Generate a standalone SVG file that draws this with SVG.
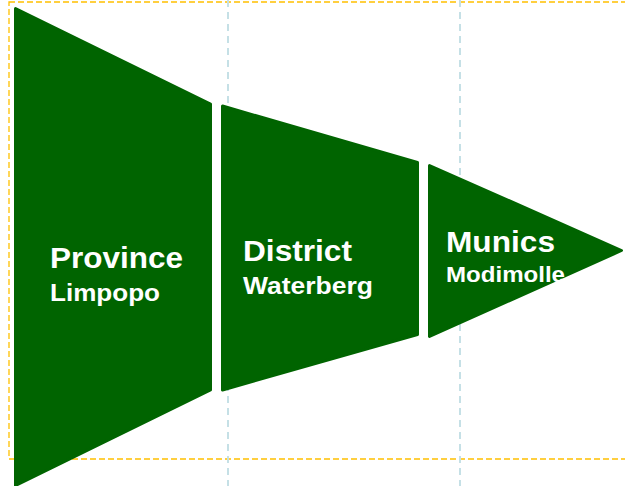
<svg xmlns="http://www.w3.org/2000/svg" width="625" height="486" viewBox="0 0 625 486">
  <style>
    .guide-o { fill: none; stroke: #FFC000; stroke-width: 1.3; stroke-dasharray: 6 3; }
    .guide-b { fill: none; stroke: #C5E0E6; stroke-width: 2; stroke-dasharray: 7 5; }
    .seg { fill: #006400; stroke: #006400; stroke-width: 3; stroke-linejoin: round; }
    .t1 { font-family: "Liberation Sans", Arial, sans-serif; font-weight: bold; fill: #FFFFFF; }
    .t2 { font-family: "Liberation Sans", Arial, sans-serif; font-weight: bold; fill: #FFFFFF; }
  </style>
  <rect width="625" height="486" fill="#FFFFFF"/>
  <g id="guides">
    <rect class="guide-o" x="9" y="2" width="625" height="457"/>
    <line class="guide-b" x1="228" y1="0" x2="228" y2="486"/>
    <line class="guide-b" x1="460" y1="0" x2="460" y2="486"/>
  </g>
  <g id="connectors"></g>
  <g id="province">
    <polygon class="seg" points="15.5,8.5 210.5,104 210.5,390 15.5,485.5"/>
    <text class="t1" x="50" y="268" font-size="30" textLength="133" lengthAdjust="spacingAndGlyphs">Province</text>
    <text class="t2" x="50" y="301" font-size="23" textLength="110" lengthAdjust="spacingAndGlyphs">Limpopo</text>
  </g>
  <g id="district">
    <polygon class="seg" points="222.5,106 417.5,162.5 417.5,334.5 222.5,390"/>
    <text class="t1" x="243" y="261" font-size="29.5" textLength="109" lengthAdjust="spacingAndGlyphs">District</text>
    <text class="t2" x="243" y="294" font-size="23" textLength="130" lengthAdjust="spacingAndGlyphs">Waterberg</text>
  </g>
  <g id="munics">
    <polygon class="seg" points="429.5,165.5 621.5,250.5 429.5,336.5"/>
    <text class="t1" x="446" y="252" font-size="29" textLength="109" lengthAdjust="spacingAndGlyphs">Munics</text>
    <text class="t2" x="446" y="282" font-size="22" textLength="119" lengthAdjust="spacingAndGlyphs">Modimolle</text>
  </g>
</svg>
